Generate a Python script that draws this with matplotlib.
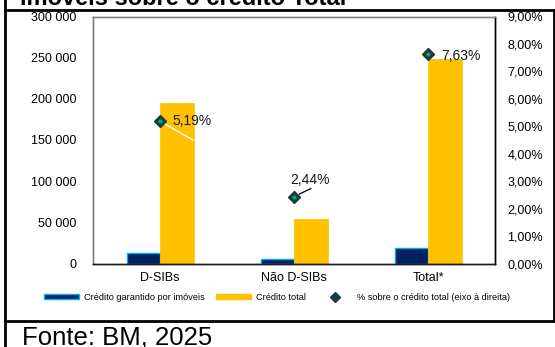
import matplotlib
matplotlib.use("Agg")
import matplotlib.pyplot as plt
from matplotlib.lines import Line2D
from matplotlib.patches import Patch
from matplotlib.ticker import FuncFormatter, MultipleLocator

plt.rcParams['font.family'] = ['Liberation Sans', 'DejaVu Sans']

categories = ["D-SIBs", "Não D-SIBs", "Total*"]
credito_imoveis = [13000, 6000, 19000]
credito_total = [195000, 53500, 248000]
pct_sobre_total = [5.19, 2.44, 7.63]
pct_labels = ["5,19%", "2,44%", "7,63%"]

NAVY = "#002060"
LIGHTBLUE = "#00B0F0"
YELLOW = "#FFC000"
MARK = "#1B3A48"
GREEN = "#00B050"

W, H = 555, 347
fig = plt.figure(figsize=(W / 100, H / 100), dpi=100)

ax = fig.add_axes([93 / W, 1 - 263.5 / H, (495 - 93) / W, (263.5 - 16.5) / H])
ax2 = ax.twinx()

x = list(range(len(categories)))
bw = 0.25
ax.bar([i - bw / 2 for i in x], credito_imoveis, width=bw, color=NAVY,
       edgecolor=LIGHTBLUE, linewidth=1.0, zorder=2)
ax.bar([i + bw / 2 for i in x], credito_total, width=bw, color=YELLOW,
       edgecolor=YELLOW, linewidth=0.5, zorder=2)

ax.set_xlim(-0.5, 2.5)
ax.set_ylim(0, 300000)
ax.yaxis.set_major_locator(MultipleLocator(50000))
ax.yaxis.set_major_formatter(FuncFormatter(lambda v, p: f"{int(v):,}".replace(",", " ")))
ax.set_xticks(x)
ax.set_xticklabels(categories)
ax.tick_params(axis='both', length=0, labelsize=9, colors='black')
ax.tick_params(axis='y', pad=12)
ax.tick_params(axis='x', pad=6)

ax2.set_ylim(0, 9)
ax2.yaxis.set_major_locator(MultipleLocator(1))
ax2.yaxis.set_major_formatter(FuncFormatter(lambda v, p: f"{v:.2f}".replace(".", ",") + "%"))
ax2.tick_params(axis='y', length=0, labelsize=9, pad=9)

for a in (ax, ax2):
    a.spines['top'].set_color('#7f7f7f')
    a.spines['left'].set_color('#7f7f7f')
    a.spines['right'].set_color('black')
    a.spines['bottom'].set_color('#1a1a1a')
    for s in a.spines.values():
        s.set_linewidth(1.0)

ax2.plot(x, pct_sobre_total, linestyle='none', marker='D', markersize=6,
         color=MARK, zorder=5)
ax2.plot(x, pct_sobre_total, linestyle='none', marker='o', markersize=2,
         color=GREEN, zorder=6)

# data labels
offsets = [(12, 0), (16, 17), (13, -2)]
has = ['left', 'center', 'left']
for i, (v, lab) in enumerate(zip(pct_sobre_total, pct_labels)):
    ax2.annotate(lab, xy=(x[i], v), xytext=offsets[i], textcoords='offset pixels',
                 ha=has[i], va='center', fontsize=10, color='#1a1a1a', zorder=7)
# leader lines
ax2.annotate('', xy=(x[0], pct_sobre_total[0]), xytext=(33, -19), textcoords='offset pixels',
             arrowprops=dict(arrowstyle='-', color='white', lw=1, shrinkA=0, shrinkB=4), zorder=4)
ax2.annotate('', xy=(x[1], pct_sobre_total[1]), xytext=(17, 8), textcoords='offset pixels',
             arrowprops=dict(arrowstyle='-', color='black', lw=0.9, shrinkA=0, shrinkB=4), zorder=4)

# legend
handles = [
    Patch(facecolor=NAVY, edgecolor=LIGHTBLUE, linewidth=1.0),
    Patch(facecolor=YELLOW, edgecolor=YELLOW),
    Line2D([], [], linestyle='none', marker='D', markersize=5, color=MARK),
]
labels = ["Crédito garantido por imóveis", "Crédito total",
          "% sobre o crédito total (eixo à direita)"]
fig.legend(handles, labels, loc='center', bbox_to_anchor=(277 / W, 1 - 297 / H),
           ncol=3, frameon=False, fontsize=6.6, handlelength=3.8, handleheight=0.45,
           handletextpad=0.5, columnspacing=1.3, borderaxespad=0, borderpad=0)

# frame lines
lw = 2
fig.add_artist(Line2D([5 / W, 5 / W], [0, 1], color='black', lw=lw, transform=fig.transFigure))
fig.add_artist(Line2D([5 / W, 1], [1 - 9.5 / H, 1 - 9.5 / H], color='black', lw=lw, transform=fig.transFigure))
fig.add_artist(Line2D([5 / W, 1], [1 - 320.5 / H, 1 - 320.5 / H], color='black', lw=lw, transform=fig.transFigure))
fig.add_artist(Line2D([553.5 / W, 553.5 / W], [1 - 320.5 / H, 1 - 9.5 / H], color='black', lw=lw, transform=fig.transFigure))

# titles / source (title is partly cut at the top edge, as in the reference)
fig.text(20 / W, 1 - 5 / H, "imóveis sobre o crédito Total", fontsize=17, fontweight='bold',
         ha='left', va='baseline', color='black')
fig.text(22 / W, 1 - 344 / H, "Fonte: BM, 2025", fontsize=18.5, ha='left', va='baseline',
         color='black')

fig.savefig("out.png", dpi=100)
